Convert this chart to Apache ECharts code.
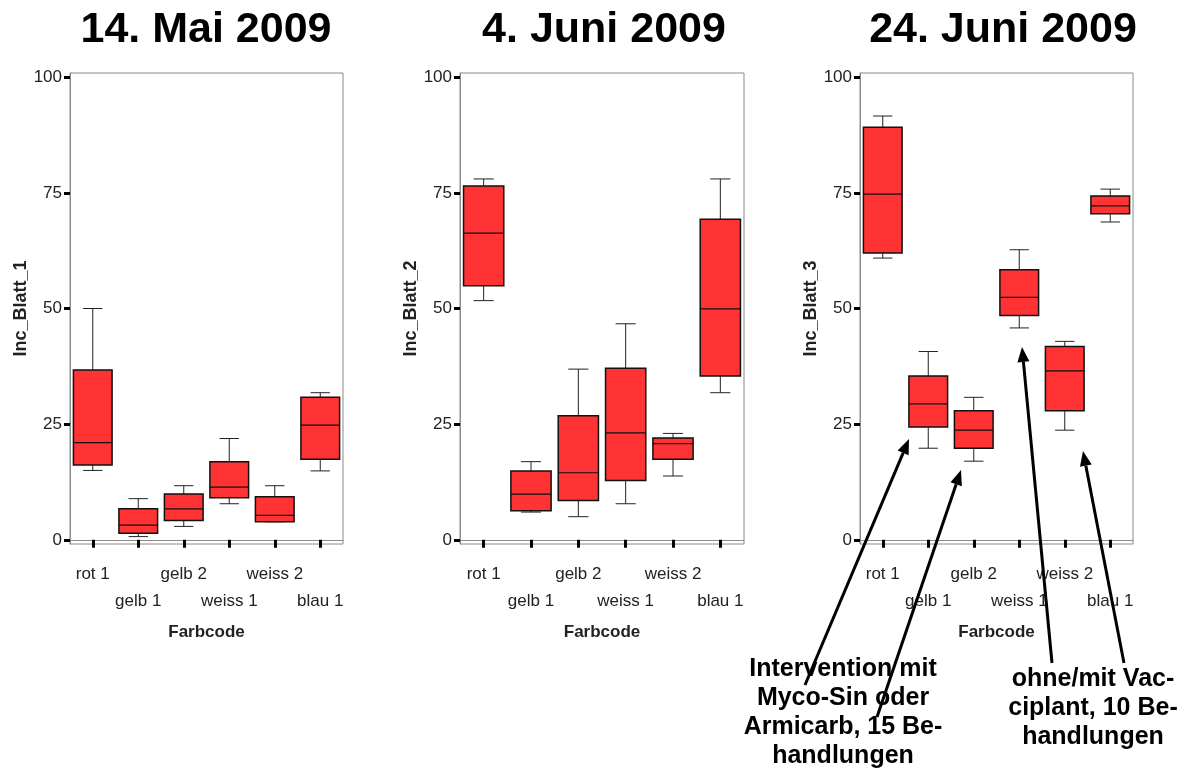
<!DOCTYPE html>
<html><head><meta charset="utf-8">
<script src="https://cdn.jsdelivr.net/npm/echarts@6/dist/echarts.min.js"></script>
<style>html,body{margin:0;padding:0;background:#fff}#c{width:1189px;height:772px}</style>
</head><body><div id="c"></div>
<script>
// ---- data ----
const categories = ['rot 1','gelb 1','gelb 2','weiss 1','weiss 2','blau 1'];
const panelTitles = ['14. Mai 2009','4. Juni 2009','24. Juni 2009'];
const yNames = ['Inc_Blatt_1','Inc_Blatt_2','Inc_Blatt_3'];
const yTicks = [0,25,50,75,100];
// five-number summaries per category: [min, q1, median, q3, max]
const mai14 = [
  [15.0,16.2,21.0,36.7,50.0],
  [0.7,1.4,3.2,6.7,8.9],
  [2.9,4.2,6.7,9.9,11.7],
  [7.8,9.1,11.4,16.9,21.9],
  [3.9,3.9,5.3,9.3,11.7],
  [14.9,17.4,24.8,30.8,31.8]
];
const juni4 = [
  [51.7,54.9,66.3,76.5,78.0],
  [6.0,6.3,9.9,14.9,16.9],
  [5.0,8.5,14.5,26.8,36.9],
  [7.8,12.8,23.1,37.1,46.7],
  [13.8,17.4,20.8,22.0,23.0],
  [31.8,35.4,49.9,69.3,78.0]
];
const juni24 = [
  [60.9,62.0,74.7,89.2,91.6],
  [19.8,24.4,29.4,35.4,40.7],
  [17.0,19.8,23.7,27.9,30.8],
  [45.8,48.5,52.4,58.4,62.7],
  [23.7,27.9,36.5,41.8,42.9],
  [68.7,70.5,72.2,74.3,75.8]
];
const annotationLeft = 'Intervention mit\nMyco-Sin oder\nArmicarb, 15 Be-\nhandlungen';
const annotationRight = 'ohne/mit Vac-\nciplant, 10 Be-\nhandlungen';

// ---- layout ----
const panels = [mai14, juni4, juni24];
const gridBoxes = [
  {left:70, width:273},
  {left:460, width:284},
  {left:860, width:273}
];
const titleX = [206, 604, 1003];
const narrow = '"Liberation Sans Narrow","Arial Narrow","Liberation Sans",Arial,sans-serif';
const bold = '"Liberation Sans",Arial,Helvetica,sans-serif';

function renderBox(params, api){
  const i = api.value(0);
  const mn = api.coord([i, api.value(1)]);
  const q1 = api.coord([i, api.value(2)]);
  const md = api.coord([i, api.value(3)]);
  const q3 = api.coord([i, api.value(4)]);
  const mx = api.coord([i, api.value(5)]);
  const band = api.size([1,0])[0];
  const bw = band*0.85, cw = bw/2;
  const cx = mn[0];
  const wl = {stroke:'#222', lineWidth:1};
  return {type:'group', children:[
    {type:'line', shape:{x1:cx,y1:mx[1],x2:cx,y2:q3[1]}, style:wl},
    {type:'line', shape:{x1:cx,y1:q1[1],x2:cx,y2:mn[1]}, style:wl},
    {type:'line', shape:{x1:cx-cw/2,y1:mx[1],x2:cx+cw/2,y2:mx[1]}, style:wl},
    {type:'line', shape:{x1:cx-cw/2,y1:mn[1],x2:cx+cw/2,y2:mn[1]}, style:wl},
    {type:'rect', shape:{x:cx-bw/2,y:q3[1],width:bw,height:q1[1]-q3[1]}, style:{fill:'#FF3333', stroke:'#111', lineWidth:1.5}},
    {type:'line', shape:{x1:cx-bw/2,y1:md[1],x2:cx+bw/2,y2:md[1]}, style:{stroke:'#111', lineWidth:1.2}}
  ]};
}

const grids=[], xAxes=[], yAxes=[], series=[], graphics=[];
panels.forEach((p, k)=>{
  grids.push({left:gridBoxes[k].left, width:gridBoxes[k].width, top:73, height:471,
    show:true, borderColor:'#8a8a8a', borderWidth:1, backgroundColor:'transparent'});
  xAxes.push({type:'category', gridIndex:k, data:categories, boundaryGap:true,
    axisLine:{show:true, lineStyle:{color:'#8a8a8a', width:1}},
    axisTick:{show:true, alignWithLabel:true, length:8, lineStyle:{color:'#000', width:3}},
    axisLabel:{interval:0, margin:17, color:'#222', fontFamily:narrow, fontSize:17, lineHeight:27,
      formatter:(v,i)=> i%2 ? '\n'+v : v},
    name:'Farbcode', nameLocation:'middle', nameGap:80,
    nameTextStyle:{fontFamily:narrow, fontWeight:'bold', fontSize:17, color:'#222'}
  });
  yAxes.push({type:'value', gridIndex:k, min:-0.9, max:100.9,
    axisLine:{show:true, lineStyle:{color:'#8a8a8a', width:1}},
    axisTick:{show:true, length:6, customValues:yTicks, lineStyle:{color:'#000', width:3}},
    axisLabel:{customValues:yTicks, margin:8, color:'#222', fontFamily:narrow, fontSize:17},
    splitLine:{show:false},
    name:yNames[k], nameLocation:'middle', nameGap:40, nameRotate:90,
    nameTextStyle:{fontFamily:bold, fontWeight:'bold', fontSize:18, color:'#222'}
  });
  series.push({type:'custom', xAxisIndex:k, yAxisIndex:k, renderItem:renderBox,
    encode:{x:0, y:[1,2,3,4,5]},
    data:p.map((s,i)=>[i].concat(s))});
  graphics.push({type:'text', x:titleX[k], y:30, z:10, style:{text:panelTitles[k],
    align:'center', verticalAlign:'middle', textAlign:'center', textVerticalAlign:'middle',
    fontFamily:bold, fontWeight:'bold', fontSize:43, fill:'#000'}});
});

graphics.push({type:'text', x:843, y:655, z:10, style:{text:annotationLeft,
  align:'center', verticalAlign:'top', textAlign:'center', textVerticalAlign:'top', lineHeight:29,
  fontFamily:bold, fontWeight:'bold', fontSize:25, fill:'#000'}});
graphics.push({type:'text', x:1093, y:665, z:10, style:{text:annotationRight,
  align:'center', verticalAlign:'top', textAlign:'center', textVerticalAlign:'top', lineHeight:29,
  fontFamily:bold, fontWeight:'bold', fontSize:25, fill:'#000'}});

// annotation arrows: [tailX, tailY, tipX, tipY]
const arrows = [[805,685,909,439],[877,717,961,470],[1052,663,1022,347],[1124,663,1083,451]];
arrows.forEach(a=>{
  const dx=a[2]-a[0], dy=a[3]-a[1], L=Math.hypot(dx,dy), ux=dx/L, uy=dy/L;
  const hl=15, hw=6;
  const bx=a[2]-ux*hl, by=a[3]-uy*hl;
  graphics.push({type:'line', z:20, shape:{x1:a[0],y1:a[1],x2:bx,y2:by}, style:{stroke:'#000', lineWidth:3}});
  graphics.push({type:'polygon', z:20, shape:{points:[[a[2],a[3]],[bx-uy*hw,by+ux*hw],[bx+uy*hw,by-ux*hw]]}, style:{fill:'#000'}});
});

const chart = echarts.init(document.getElementById('c'), null, {renderer:'canvas'});
chart.setOption({animation:false, backgroundColor:'#fff', grid:grids, xAxis:xAxes, yAxis:yAxes, series:series, graphic:graphics});
</script></body></html>
